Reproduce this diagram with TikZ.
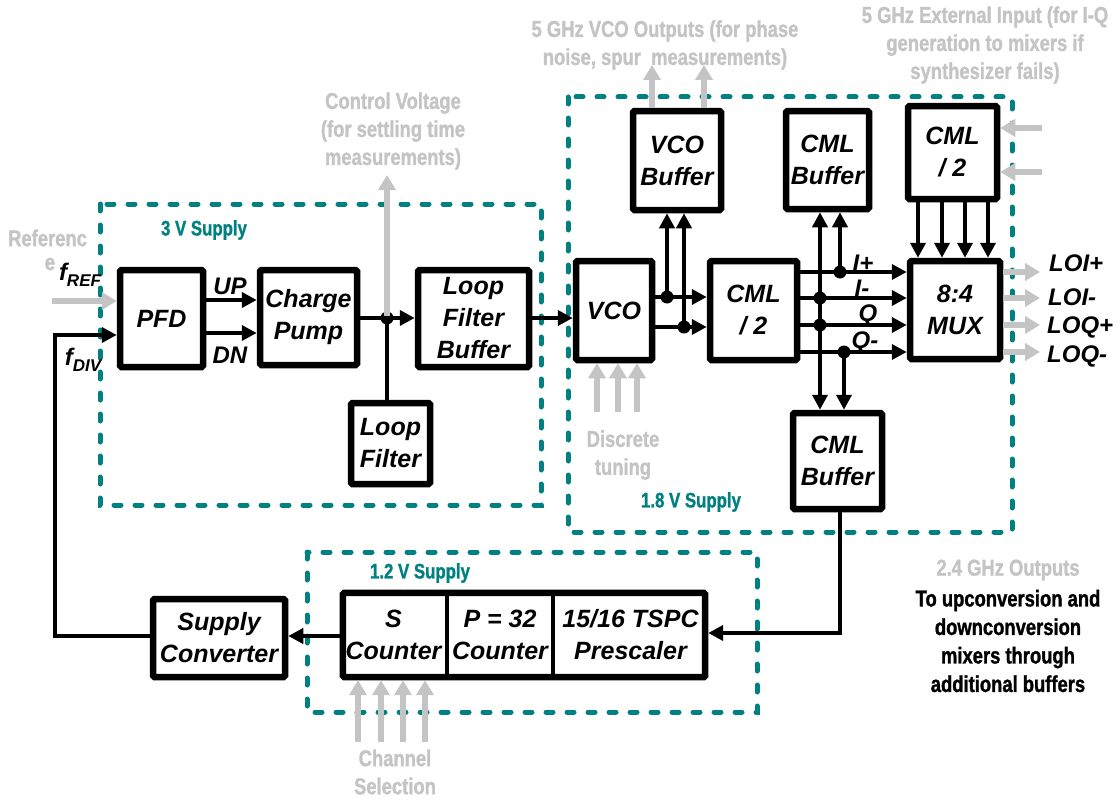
\documentclass[tikz,border=0pt]{standalone}
\usepackage{fontspec}
\setmainfont{Liberation Sans}
\newfontfamily\condfam[FakeStretch=0.8,BoldFeatures={FakeBold=1.2}]{Liberation Sans}
\newcommand\condf{\condfam\bfseries}
\usetikzlibrary{arrows.meta}
\definecolor{teal2}{RGB}{0,128,128}
\definecolor{lgray}{RGB}{196,196,196}
\newcommand\blkfont{\fontsize{25}{32}\selectfont\bfseries\itshape}
\newcommand\labfont{\fontsize{24}{28}\selectfont\bfseries\itshape}
\newcommand\subtxt[1]{\raisebox{-6pt}{\fontsize{17}{17}\selectfont #1}}
\tikzset{
  blk/.style={draw, line width=6.5pt, rounded corners=1.5pt, fill=white, inner sep=0pt, align=center, font=\blkfont},
  wire/.style={line width=4.5pt},
  arr/.style={-{Triangle[length=15pt,width=15pt]}},
  garr/.style={lgray, line width=6pt, -{Triangle[length=15pt,width=17pt]}},
  supply/.style={teal2, line width=5pt, dash pattern=on 7pt off 14pt, line cap=round},
  jdot/.style={circle, fill=black, inner sep=0pt, minimum size=13pt},
  glabel/.style={text=lgray, font=\condf\fontsize{23}{28}\selectfont, align=center, inner sep=0pt},
  blabel/.style={text=black, font=\condf\fontsize{23}{28.5}\selectfont, align=center, inner sep=0pt},
  tlabel/.style={text=teal2, font=\condf\fontsize{21}{25}\selectfont, inner sep=0pt},
  lab/.style={font=\labfont, inner sep=0pt}
}
\begin{document}
\begin{tikzpicture}[x=1pt,y=-1pt]
\useasboundingbox (0,0) rectangle (1117,800);
% supply domains
\draw[supply] (100,204) rectangle (541,505);
\draw[supply] (568,97) rectangle (1012,532);
\draw[supply] (307,552) rectangle (757,712);
\node[tlabel] (s3) at (204,230) {3 V Supply};
\node[tlabel] (s18) at (691,502) {1.8 V Supply};
\node[tlabel] (s12) at (420,573) {1.2 V Supply};

% blocks
\node[blk, minimum width=83pt, minimum height=97pt] (pfd) at (161.5,318.5) {PFD};
\node[blk, minimum width=97pt, minimum height=95pt] (cp) at (308.5,317.5) {Charge\\Pump};
\node[blk, minimum width=111pt, minimum height=97pt] (lfb) at (473.5,318.5) {Loop\\Filter\\Buffer};
\node[blk, minimum width=79pt, minimum height=81pt] (lf) at (390.5,443.5) {Loop\\Filter};
\node[blk, minimum width=76pt, minimum height=99pt] (vco) at (614,310.5) {VCO};
\node[blk, minimum width=88pt, minimum height=99pt] (vcob) at (677,160.5) {VCO\\Buffer};
\node[blk, minimum width=83pt, minimum height=98pt] (cmlb1) at (827.5,160) {CML\\Buffer};
\node[blk, minimum width=89pt, minimum height=93pt] (cmld1) at (952.5,152.5) {CML\\/ 2};
\node[blk, minimum width=87pt, minimum height=99pt] (cmld2) at (753.5,310.5) {CML\\/ 2};
\node[blk, minimum width=90pt, minimum height=98pt] (mux) at (955,310) {8:4\\MUX};
\node[blk, minimum width=89pt, minimum height=96pt] (cmlb2) at (837.5,461) {CML\\Buffer};
\node[blk, minimum width=132pt, minimum height=78pt] (sc) at (219,638) {Supply\\Converter};
% divider chain
\node[inner sep=0pt, align=center, font=\blkfont, minimum width=107pt, minimum height=90pt] (scnt) at (393.5,635) {S\\Counter};
\node[inner sep=0pt, align=center, font=\blkfont, minimum width=106pt, minimum height=90pt] (pcnt) at (500,635) {P = 32\\Counter};
\node[inner sep=0pt, align=center, font=\blkfont, minimum width=155pt, minimum height=90pt] (pre) at (630.5,635) {15/16 TSPC\\Prescaler};
\draw[line width=6.5pt, rounded corners=1.5pt] ([shift={(3pt,-3pt)}]scnt.north west) rectangle ([shift={(-3pt,3pt)}]pre.south east);
\draw[line width=4pt] (scnt.north east) -- (scnt.south east);
\draw[line width=4pt] (pcnt.north east) -- (pcnt.south east);

% gray test signals
\node[jdot] (j1) at (387,318) {};
\coordinate (cvtip) at (387,175);
\draw[garr] (j1.center) -- (cvtip);
\node[glabel] (cvtxt) at (393,131) {Control Voltage\\(for settling time\\measurements)};
\coordinate (vo1) at (652,65);
\coordinate (vo2) at (704,65);
\draw[garr] (vcob.north -| vo1) -- (vo1);
\draw[garr] (vcob.north -| vo2) -- (vo2);
\node[glabel] (votxt) at (665,45) {5 GHz VCO Outputs (for phase\\noise, spur\ \ measurements)};
\node[glabel] (extxt) at (985,45) {5 GHz External Input (for I-Q\\generation to mixers if\\synthesizer fails)};
\coordinate (ex1) at (1042,128);
\coordinate (ex2) at (1042,172);
\draw[garr] (ex1) -- (cmld1.east |- ex1);
\draw[garr] (ex2) -- (cmld1.east |- ex2);
\foreach \x/\n in {597/a,618/b,637/c}{
  \coordinate (dt\n) at (\x,412);
  \draw[garr] (dt\n) -- (vco.south -| dt\n);
}
\node[glabel] (dttxt) at (623,455) {Discrete\\tuning};
\foreach \x/\n in {358/a,381/b,403/c,425/d}{
  \coordinate (ch\n) at (\x,742);
  \draw[garr] (ch\n) -- (scnt.south -| ch\n);
}
\node[glabel] (chtxt) at (395,772) {Channel\\Selection};
\coordinate (refs) at (52,301);
\draw[garr] (refs) -- (pfd.west |- refs);
\node[glabel, anchor=west] (reftxt) at (8,238) {Referenc};
\node[glabel] (reftxt2) at (50,264) {e};
\foreach \y/\n/\t in {272/a/LOI+,298/b/LOI-,325/c/LOQ+,352/d/LOQ-}{
  \coordinate (lo\n) at (1040,\y);
  \draw[garr] (mux.east |- lo\n) -- (lo\n);
}
\node[lab, anchor=west] (loip) at (1049,263) {LOI+};
\node[lab, anchor=west] (loim) at (1048,297) {LOI-};
\node[lab, anchor=west] (loqp) at (1047,327) {LOQ+};
\node[lab, anchor=west] (loqm) at (1047,356) {LOQ-};
\node[glabel] (o24) at (1008,570) {2.4 GHz Outputs};
\node[blabel] (otxt) at (1008,641) {To upconversion and\\downconversion\\mixers through\\additional buffers};

% signal wires
\coordinate (upy) at (0,300);
\coordinate (dny) at (0,333);
\draw[wire,arr] (pfd.east |- upy) -- (cp.west |- upy);
\draw[wire,arr] (pfd.east |- dny) -- (cp.west |- dny);
\node[lab] (uplbl) at (230,286) {UP};
\node[lab] (dnlbl) at (230,355) {DN};
\node[lab] (fref) at (80,275) {f\subtxt{REF}};
\node[lab] (fdiv) at (83,360) {f\subtxt{DIV}};
\draw[wire,arr] (cp.east |- j1) -- (lfb.west |- j1);
\draw[wire] (j1.center) -- (lf.north -| j1);
\draw[wire,arr] (lfb.east |- j1) -- (vco.west |- j1);

\node[jdot] (j2) at (667,297) {};
\node[jdot] (j3) at (684,327) {};
\draw[wire,arr] (vco.east |- j2) -- (cmld2.west |- j2);
\draw[wire,arr] (vco.east |- j3) -- (cmld2.west |- j3);
\draw[wire,arr] (j2.center) -- (vcob.south -| j2);
\draw[wire,arr] (j3.center) -- (vcob.south -| j3);

\node[jdot] (jip) at (840,272) {};
\node[jdot] (jim) at (820,298) {};
\node[jdot] (jqp) at (820,325) {};
\node[jdot] (jqm) at (844,352) {};
\foreach \n in {jip,jim,jqp,jqm}{
  \draw[wire,arr] (cmld2.east |- \n) -- (mux.west |- \n);
}
\draw[wire,arr] (jip.center) -- (cmlb1.south -| jip);
\draw[wire,arr] (jim.center) -- (cmlb1.south -| jim);
\draw[wire] (jim.center) -- (jqp.center);
\draw[wire,arr] (jqp.center) -- (cmlb2.north -| jqp);
\draw[wire,arr] (jqm.center) -- (cmlb2.north -| jqm);
\node[lab] (lip) at (863,263) {I+};
\node[lab] (lim) at (862,288) {I-};
\node[lab] (lqp) at (868,315) {Q};
\node[lab] (lqm) at (865,342) {Q-};
\foreach \x/\n in {918/a,942/b,965/c,988/d}{
  \coordinate (mx\n) at (\x,0);
  \draw[wire,arr] (cmld1.south -| mx\n) -- (mux.north -| mx\n);
}

% divider path
\coordinate (fbk) at (840,633);
\draw[wire,arr] (cmlb2.south -| fbk) -- (fbk) -- (pre.east |- fbk);
\coordinate (scy) at (0,636);
\draw[wire,arr] (scnt.west |- scy) -- (sc.east |- scy);
\coordinate (fbc) at (55,335);
\draw[wire,arr] (sc.west |- scy) -| (fbc) -- (pfd.west |- fbc);
\end{tikzpicture}
\end{document}
